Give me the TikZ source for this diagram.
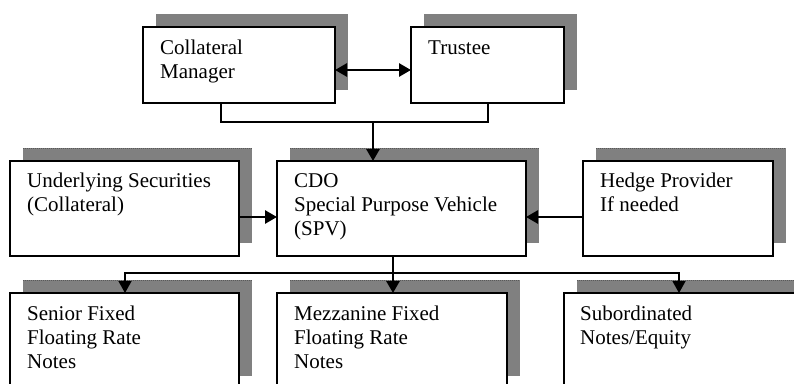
\documentclass[tikz,border=0pt]{standalone}
\usepackage{fontspec}
\setmainfont{Liberation Serif}
\usetikzlibrary{arrows.meta,calc,shadows}
\definecolor{shadowgray}{HTML}{808080}
\newcommand{\boxlines}[1]{\begin{tabular}[t]{@{}l@{}}#1\end{tabular}}
\begin{document}
\begin{tikzpicture}[x=1pt,y=-1pt,
  box/.style={draw=black, line width=1.5pt, fill=white, anchor=north west,
    inner sep=0pt, outer sep=0pt,
    drop shadow={shadow xshift=13pt, shadow yshift=13pt, fill=shadowgray, opacity=1}},
  shadowtop/.style={dash pattern=on 1pt off 1pt, line width=0.6pt, black!65},
  lbl/.style={anchor=base west, inner sep=0pt,
    font=\fontsize{21}{24.3}\selectfont},
  tip/.style={-{Triangle[length=12pt,width=13pt]}},
  heavy/.style={line width=2.7pt},
  light/.style={line width=1.3pt},
]
\useasboundingbox (0,0) rectangle (794,383);
\clip (0,0) rectangle (794,383);

% boxes
\node[box, minimum width=192pt, minimum height=76pt] (cm) at (143,27) {};
\node[box, minimum width=153pt, minimum height=76pt] (trustee) at (411,27) {};
\node[box, minimum width=229pt, minimum height=95pt] (und) at (10,161) {};
\node[box, minimum width=249pt, minimum height=95pt] (cdo) at (277,161) {};
\node[box, minimum width=190pt, minimum height=95pt] (hedge) at (583,161) {};
\node[box, minimum width=229pt, minimum height=96pt] (sen) at (10,293) {};
\node[box, minimum width=230pt, minimum height=96pt] (mezz) at (277,293) {};
\node[box, minimum width=240pt, minimum height=96pt] (sub) at (564,293) {};

% dotted upper edges of the lower shadows
\foreach \b in {und,cdo,hedge,sen,mezz,sub}
  \draw[shadowtop] ($(\b.north west)+(13,-13)$) -- ($(\b.north east)+(13,-13)$);

% labels (baseline of the first line)
\node[lbl] (cmt) at ($(cm.north west)+(17,27)$) {\boxlines{Collateral\\Manager}};
\node[lbl] (trt) at ($(trustee.north west)+(17,27)$) {\boxlines{Trustee}};
\node[lbl] (undt) at ($(und.north west)+(17,26)$) {\boxlines{Underlying Securities\\(Collateral)}};
\node[lbl] (cdot) at ($(cdo.north west)+(17,26)$) {\boxlines{CDO\\Special Purpose Vehicle\\(SPV)}};
\node[lbl] (hedget) at ($(hedge.north west)+(17,26)$) {\boxlines{Hedge Provider\\If needed}};
\node[lbl] (sent) at ($(sen.north west)+(17,27)$) {\boxlines{Senior Fixed\\Floating Rate\\Notes}};
\node[lbl] (mezzt) at ($(mezz.north west)+(17,27)$) {\boxlines{Mezzanine Fixed\\Floating Rate\\Notes}};
\node[lbl] (subt) at ($(sub.north west)+(16,27)$) {\boxlines{Subordinated\\Notes/Equity}};

% connectors
\draw[heavy, {Triangle[length=12pt,width=13pt]}-{Triangle[length=12pt,width=13pt]}]
  ($(cm.north east)+(0,43)$) -- ($(trustee.north west)+(0,43)$);
\coordinate (topjoin) at (373,122);
\draw[light] ($(cm.south west)+(78,0)$) |- (topjoin) -| ($(trustee.south west)+(77,0)$);
\draw[heavy, tip] (topjoin) -- (topjoin |- cdo.north);

\draw[heavy, tip] ($(und.north east)+(0,56)$) -- ($(cdo.north west)+(0,56)$);
\draw[heavy, tip] ($(hedge.north west)+(0,56)$) -- ($(cdo.north east)+(0,56)$);

\draw[heavy, tip] ($(cdo.south west)+(116,0)$) -- ($(mezz.north west)+(116,0)$);
\coordinate (bus) at (393,273);
\draw[light, tip] (bus) -| ($(sen.north west)+(115,0)$);
\draw[light, tip] (bus) -| ($(sub.north west)+(115,0)$);
\end{tikzpicture}
\end{document}
